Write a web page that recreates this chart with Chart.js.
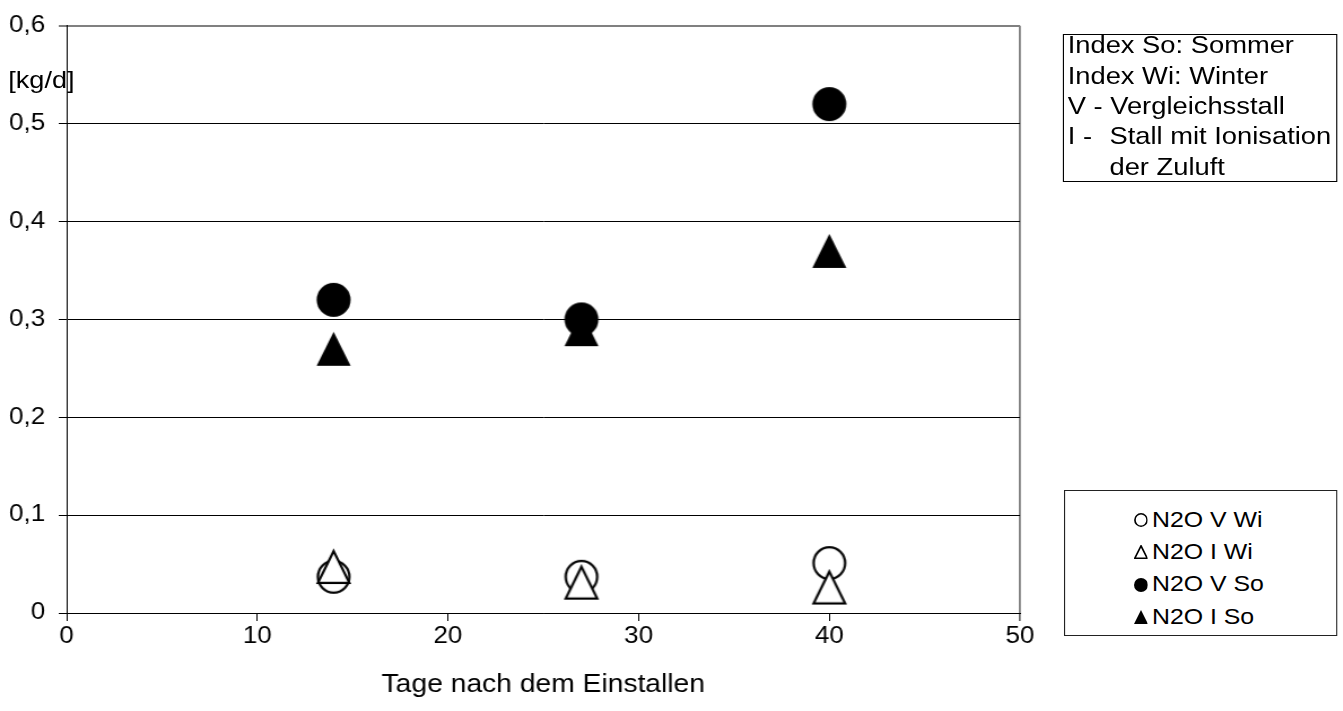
<!DOCTYPE html>
<html>
<head>
<meta charset="utf-8">
<script src="https://cdn.jsdelivr.net/npm/chart.js@4/dist/chart.umd.min.js"></script>
<style>
  html, body { margin: 0; padding: 0; background: #fff; overflow: hidden; }
  #wrap { position: absolute; left: 0; top: 0; width: 1189px; height: 711px;
          transform: scaleX(1.1295); transform-origin: 0 0;
          font-family: "Liberation Sans", Arial, sans-serif; color: #000; }
  #c { position: absolute; left: 0; top: 0; }
  #unit { position: absolute; left: 7.3px; top: 66px; font-size: 24px; line-height: 28px; white-space: nowrap; }
  #box1 { position: absolute; left: 940.7px; top: 34px; width: 243.5px; height: 148px;
          box-sizing: border-box; border: 1px solid #000; background: #fff; }
  .l1 { position: absolute; left: 3.6px; height: 30.3px; font-size: 24.2px; line-height: 30.3px; white-space: nowrap; }
  #box2 { position: absolute; left: 941.6px; top: 490px; width: 242.1px; height: 146px;
          box-sizing: border-box; border: 1px solid #222; background: #fff; }
  .row { position: absolute; left: 0; height: 32.3px; width: 100%; font-size: 22px; line-height: 32.3px; white-space: nowrap; }
  .row svg { position: absolute; left: 61.5px; top: 9.15px; }
  .row span { position: absolute; left: 77.3px; top: 0; }
</style>
</head>
<body>
<div id="wrap">
  <canvas id="c" width="1189" height="711"></canvas>
  <div id="unit">[kg/d]</div>
  <div id="box1"></div>
  <div id="box2"></div>
</div>
<script>
// ---- data ----
const days = [14, 27, 40];
const n2oVWi = [0.037, 0.037, 0.051];
const n2oIWi = [0.047, 0.031, 0.026];
const n2oVSo = [0.32, 0.30, 0.52];
const n2oISo = [0.27, 0.29, 0.37];
const seriesNames = ['N2O V Wi', 'N2O I Wi', 'N2O V So', 'N2O I So'];
const noteLines = ['Index So: Sommer', 'Index Wi: Winter', 'V - Vergleichsstall', 'I - ', 'Stall mit Ionisation', 'der Zuluft'];
const unitLabel = '[kg/d]';
const xTitle = 'Tage nach dem Einstallen';

// ---- marker images ----
function marker(shape, filled, w, h) {
  const c = document.createElement('canvas');
  const pad = 2;
  c.width = Math.ceil(w) + pad * 2; c.height = Math.ceil(h) + pad * 2;
  const g = c.getContext('2d');
  const cx = c.width / 2, cy = c.height / 2;
  g.lineWidth = 2.2;
  g.strokeStyle = '#000';
  g.fillStyle = filled ? '#000' : '#fff';
  g.beginPath();
  const inset = filled ? 0 : 1.1;
  if (shape === 'circle') {
    g.ellipse(cx, cy, w / 2 - inset, h / 2 - inset, 0, 0, Math.PI * 2);
  } else {
    g.moveTo(cx, cy - h / 2 + inset);
    g.lineTo(cx + w / 2 - inset, cy + h / 2 - inset);
    g.lineTo(cx - w / 2 + inset, cy + h / 2 - inset);
    g.closePath();
  }
  g.fill();
  if (!filled) g.stroke();
  return c;
}
const MW = 30.1, MH = 34;
const mOpenCircle = marker('circle', false, MW, MH);
const mOpenTri = marker('tri', false, MW, MH);
const mFillCircle = marker('circle', true, MW, MH);
const mFillTri = marker('tri', true, MW, MH);

function pts(vals) { return days.map((d, i) => ({ x: d, y: vals[i] })); }

const datasets = [
  { label: seriesNames[0], data: pts(n2oVWi), pointStyle: mOpenCircle, order: 3 },
  { label: seriesNames[1], data: pts(n2oIWi), pointStyle: mOpenTri, order: 2 },
  { label: seriesNames[2], data: pts(n2oVSo), pointStyle: mFillCircle, order: 1 },
  { label: seriesNames[3], data: pts(n2oISo), pointStyle: mFillTri, order: 0 }
].map(d => Object.assign(d, { showLine: false, pointRadius: 17 }));

const FONT = "'Liberation Sans', Arial, sans-serif";

new Chart(document.getElementById('c'), {
  type: 'scatter',
  data: { datasets },
  options: {
    responsive: false,
    devicePixelRatio: 1,
    animation: false,
    events: [],
    layout: { padding: { top: 24, right: 286, left: 0, bottom: 0 } },
    plugins: { legend: { display: false }, tooltip: { enabled: false }, title: { display: false } },
    scales: {
      x: {
        type: 'linear', min: 0, max: 50,
        afterFit: s => { s.height = 98; },
        border: { display: true, color: '#000', width: 1 },
        grid: {
          drawOnChartArea: true, drawTicks: true, tickLength: 8,
          color: ctx => (ctx.tick && ctx.tick.value === 50) ? '#808080' : 'rgba(0,0,0,0)',
          lineWidth: ctx => (ctx.tick && ctx.tick.value === 50) ? 1.8 : 1,
          tickColor: '#000', tickWidth: 1
        },
        ticks: { stepSize: 10, padding: 2, color: '#000', font: { family: FONT, size: 23 }, maxRotation: 0 },
        title: { display: true, text: xTitle, color: '#000', font: { family: FONT, size: 25 }, padding: { top: 0, bottom: 11 } }
      },
      y: {
        type: 'linear', min: 0, max: 0.6,
        afterFit: s => { s.width = 59; },
        border: { display: true, color: '#000', width: 1 },
        grid: {
          drawTicks: true, tickLength: 7,
          color: ctx => (ctx.tick && Math.abs(ctx.tick.value - 0.6) < 1e-9) ? '#808080' : '#000',
          lineWidth: ctx => (ctx.tick && Math.abs(ctx.tick.value - 0.6) < 1e-9) ? 2 : 1,
          tickColor: '#000', tickWidth: 1
        },
        ticks: {
          stepSize: 0.1, padding: 12, color: '#000', font: { family: FONT, size: 23 },
          callback: v => (Math.abs(v) < 1e-9 ? '0' : Number(v).toFixed(1).replace('.', ','))
        }
      }
    }
  }
});

// ---- annotation boxes (real text) ----
document.getElementById('unit').textContent = unitLabel;
const b1 = document.getElementById('box1');
const lineCenters = [45.5, 75.8, 106.1, 136.4, 166.7];
const l1 = [
  noteLines[0],
  noteLines[1],
  noteLines[2],
  '<span style="display:inline-block;width:37px">' + noteLines[3] + '</span>' + noteLines[4],
  '<span style="display:inline-block;width:37px"></span>' + noteLines[5]
];
b1.innerHTML = l1.map((t, i) =>
  '<div class="l1" style="top:' + (lineCenters[i] - 35 - 15.15).toFixed(2) + 'px">' + t + '</div>').join('');

const icons = [
  '<ellipse cx="6.2" cy="7" rx="5.4" ry="6.2" fill="#fff" stroke="#000" stroke-width="1.5"/>',
  '<polygon points="6.2,0.9 11.7,13.2 0.7,13.2" fill="#fff" stroke="#000" stroke-width="1.5"/>',
  '<ellipse cx="6.2" cy="7" rx="6.2" ry="7" fill="#000"/>',
  '<polygon points="6.2,0 12.4,14 0,14" fill="#000"/>'
];
const rowCenters = [520, 552.3, 584.6, 617];
const b2 = document.getElementById('box2');
b2.innerHTML = seriesNames.map((n, i) =>
  '<div class="row" style="top:' + (rowCenters[i] - 491 - 16.15).toFixed(2) + 'px"><svg width="12.4" height="14" viewBox="0 0 12.4 14">' +
  icons[i] + '</svg><span>' + n + '</span></div>').join('');
</script>
</body>
</html>
